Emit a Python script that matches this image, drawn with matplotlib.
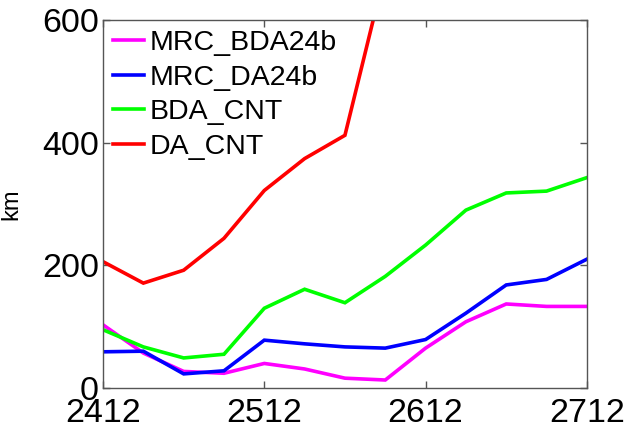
import matplotlib
matplotlib.use("Agg")
import matplotlib.pyplot as plt
import numpy as np

plt.rcParams['font.family'] = ['Liberation Sans', 'DejaVu Sans']

# 6-hourly times from 2412 to 2712
xticklabels = ["2412", "2512", "2612", "2712"]
n_points = 13

mrc_bda24b = [103, 57, 27, 24, 40, 31, 16, 13, 65, 108, 137, 133, 133]
mrc_da24b = [59, 60, 23, 28, 78, 72, 67, 65, 79, 122, 168, 177, 210]
bda_cnt = [95, 67, 49, 55, 130, 161, 139, 182, 233, 290, 318, 321, 343]
da_cnt = [206, 171, 192, 244, 322, 374, 412, 680, 760, 820, 860, 900, 950]

series = [
    ("MRC_BDA24b", mrc_bda24b, "#ff00ff"),
    ("MRC_DA24b", mrc_da24b, "#0000ff"),
    ("BDA_CNT", bda_cnt, "#00ff00"),
    ("DA_CNT", da_cnt, "#ff0000"),
]

fig = plt.figure(figsize=(6.25, 4.3), dpi=100)
ax = fig.add_axes([0.1648, 0.0977, 0.7742, 0.8558])

x = np.arange(n_points)
for name, vals, col in series:
    ax.plot(x, vals, color=col, lw=2.6, label=name, solid_joinstyle='miter')

ax.set_xlim(0, n_points - 1)
ax.set_ylim(0, 600)
ax.set_xticks([0, 4, 8, 12])
ax.set_xticklabels(xticklabels)
ax.set_yticks([0, 200, 400, 600])

spine_col = "#555555"
for s in ax.spines.values():
    s.set_color(spine_col)
    s.set_linewidth(1.0)
ax.tick_params(direction='in', length=5, width=1, color=spine_col,
               top=True, right=True, labelsize=24.5, labelcolor='black')
ax.tick_params(axis='x', pad=7)
ax.tick_params(axis='y', pad=3)

ax.set_ylabel("km", fontsize=17)
ax.yaxis.set_label_coords(-0.167, 0.5)

leg = ax.legend(loc='upper left', frameon=False, fontsize=20.5,
                handlelength=1.1, handletextpad=0.2, labelspacing=0.3,
                borderaxespad=0.2, borderpad=0.15)
for line in leg.get_lines():
    line.set_linewidth(2.6)

fig.savefig("out.png", dpi=100)
